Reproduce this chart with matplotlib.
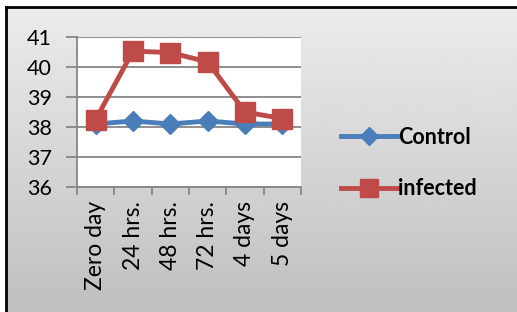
import matplotlib
matplotlib.use("Agg")
import matplotlib.pyplot as plt
import numpy as np

categories = ["Zero day", "24 hrs.", "48 hrs.", "72 hrs.", "4 days", "5 days"]
control = [38.1, 38.2, 38.1, 38.2, 38.1, 38.1]
infected = [38.25, 40.53, 40.48, 40.17, 38.5, 38.28]
yticks = [36, 37, 38, 39, 40, 41]

W, H = 517, 312
fig = plt.figure(figsize=(W / 100, H / 100), dpi=100)
fig.patch.set_facecolor("white")

# gradient background with border
bg = fig.add_axes([6 / W, 0, 1 - 6 / W, 1 - 7 / H])
grad = np.linspace(0.925, 0.75, 256).reshape(-1, 1)
bg.imshow(grad, aspect="auto", cmap="gray", vmin=0, vmax=1, extent=[0, 1, 0, 1])
bg.set_xticks([]); bg.set_yticks([])
for s in ["right", "bottom"]:
    bg.spines[s].set_visible(False)
for s in ["left", "top"]:
    bg.spines[s].set_linewidth(2)
    bg.spines[s].set_color("black")

fam = ["Lato", "DejaVu Sans"]
ax = fig.add_axes([77 / W, 1 - 187 / H, (301 - 77) / W, (187 - 37) / H])
ax.set_facecolor("white")
x = np.arange(len(categories))
ax.plot(x, control, color="#4a7ebb", lw=3.5, marker="D", ms=10, label="Control", zorder=3)
ax.plot(x, infected, color="#be4b48", lw=3.5, marker="s", ms=14, label="infected", zorder=4)
ax.set_xlim(-0.5, len(categories) - 0.5)
ax.set_ylim(36, 41)
ax.set_yticks(yticks)
ax.set_yticklabels([str(v) for v in yticks], fontsize=15.5, family=fam)
ax.yaxis.grid(True, color="#868686", lw=1.3)
ax.set_axisbelow(True)
ax.set_xticks(np.arange(-0.5, len(categories), 1.0))
ax.set_xticklabels([])
ax.set_xticks(x, minor=True)
ax.set_xticklabels(categories, minor=True, rotation=90, fontsize=16.5, family=fam)
ax.tick_params(axis="x", which="minor", length=0, pad=10)
ax.tick_params(axis="x", which="major", length=6, color="#868686", width=1.3)
ax.tick_params(axis="y", length=8, color="#868686", width=1.3, pad=10)
for s in ["top", "right"]:
    ax.spines[s].set_visible(False)
for s in ["left", "bottom"]:
    ax.spines[s].set_color("#868686")
    ax.spines[s].set_linewidth(1.3)

leg = fig.legend(loc="center left", bbox_to_anchor=(322 / W, 1 - 163 / H), frameon=False,
                 prop={"family": fam, "size": 15.5, "weight": "bold"}, handlelength=2.6,
                 handletextpad=0.05, labelspacing=1.4, markerscale=0.9)
fig.savefig("out.png", dpi=100)
